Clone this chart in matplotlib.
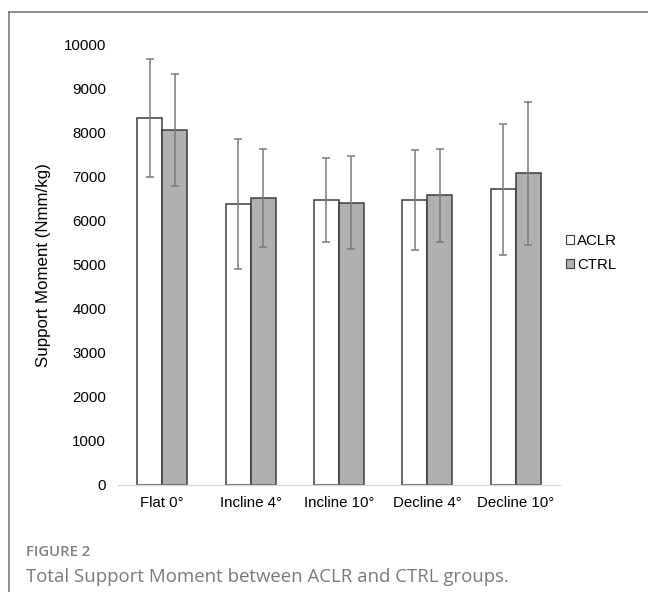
import matplotlib
matplotlib.use('Agg')
import matplotlib.pyplot as plt
import numpy as np
from matplotlib.lines import Line2D
from matplotlib.patches import Patch

# data
conditions = ['Flat 0°', 'Incline 4°', 'Incline 10°', 'Decline 4°', 'Decline 10°']
aclr_mean = [8340, 6390, 6480, 6480, 6720]
aclr_sd = [1350, 1480, 950, 1130, 1490]
ctrl_mean = [8070, 6520, 6420, 6580, 7080]
ctrl_sd = [1270, 1110, 1060, 1055, 1630]
groups = ['ACLR', 'CTRL']
yticks = [0, 1000, 2000, 3000, 4000, 5000, 6000, 7000, 8000, 9000, 10000]

plt.rcParams['font.family'] = ['Liberation Sans', 'DejaVu Sans']

fig = plt.figure(figsize=(6.48, 5.92), dpi=100)
ax = fig.add_axes([118 / 648, 1 - 485 / 592, (559.7 - 118) / 648, (485 - 45) / 592])

x = np.arange(len(conditions))
w = 0.283
edge = '#3c3c3c'
errc = '#7a7a7a'
ax.bar(x - w / 2, aclr_mean, w, color='white', edgecolor=edge, linewidth=1.1, zorder=2)
ax.bar(x + w / 2, ctrl_mean, w, color='#b0b0b0', edgecolor=edge, linewidth=1.1, zorder=2)
ax.errorbar(x - w / 2, aclr_mean, yerr=aclr_sd, fmt='none', ecolor=errc,
            elinewidth=1.1, capsize=3, capthick=1.1, zorder=3)
ax.errorbar(x + w / 2, ctrl_mean, yerr=ctrl_sd, fmt='none', ecolor=errc,
            elinewidth=1.1, capsize=3, capthick=1.1, zorder=3)

ax.set_xlim(-0.5, len(conditions) - 0.5)
ax.set_ylim(0, 10000)
ax.set_yticks(yticks)
ax.set_xticks(x)
ax.set_xticklabels(conditions)
ax.tick_params(axis='both', length=0, labelsize=10.8, colors='black')
ax.tick_params(axis='y', pad=8.5)
ax.tick_params(axis='x', pad=8)
for s in ['top', 'right', 'left']:
    ax.spines[s].set_visible(False)
ax.spines['bottom'].set_color('#d9d9d9')
ax.spines['bottom'].set_linewidth(1)
ax.set_ylabel('Support Moment (Nmm/kg)', fontsize=12.2)
ax.yaxis.set_label_coords(-(118 - 51) / (559.7 - 118), 0.5)

handles = [Patch(facecolor='white', edgecolor=edge, linewidth=0.8),
           Patch(facecolor='#b0b0b0', edgecolor=edge, linewidth=0.8)]
fig.legend(handles, groups, loc='center left', bbox_to_anchor=(566 / 648, 1 - 253 / 592),
           frameon=False, fontsize=10.8, handlelength=0.55, handleheight=0.55,
           handletextpad=0.2, labelspacing=0.7, borderaxespad=0, borderpad=0)

# frame around figure panel (top and left)
fig.add_artist(Line2D([8.5 / 648, 1], [1 - 11.7 / 592] * 2, color='#707070', lw=1.1))
fig.add_artist(Line2D([8.5 / 648] * 2, [0, 1 - 11.7 / 592], color='#707070', lw=1.1))

fig.text(26 / 648, 1 - 552 / 592, 'FIGURE 2', family=['Open Sans', 'DejaVu Sans'],
         fontsize=10.7, fontweight='semibold', color='#808080', va='center', ha='left')
fig.text(26 / 648, 1 - 577 / 592, 'Total Support Moment between ACLR and CTRL groups.',
         family=['Open Sans', 'DejaVu Sans'], fontsize=13.4, color='#7a7a7a',
         va='center', ha='left')

fig.savefig('out.png', dpi=100)
